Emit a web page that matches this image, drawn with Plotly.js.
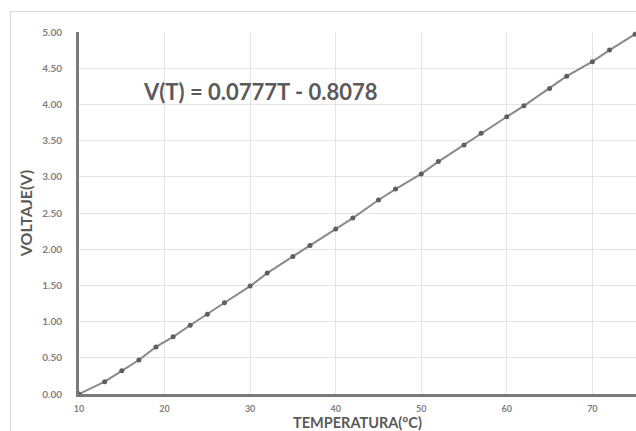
<!DOCTYPE html>
<html>
<head>
<meta charset="utf-8">
<script src="https://cdn.plot.ly/plotly-3.0.1.min.js"></script>
<style>
html,body{margin:0;padding:0;background:#fff;}
#wrap{position:relative;width:636px;height:431px;overflow:hidden;}
#chart{width:636px;height:431px;}
#frame{position:absolute;left:10px;top:11px;width:700px;height:500px;border:1px solid #d9d9d9;pointer-events:none;}
</style>
</head>
<body>
<div id="wrap"><div id="chart"></div><div id="frame"></div></div>
<script>
const temperatura = [10, 13, 15, 17, 19, 21, 23, 25, 27, 30, 32, 35, 37, 40, 42, 45, 47, 50, 52, 55, 57, 60, 62, 65, 67, 70, 72, 75];
const voltaje = [0.00, 0.17, 0.32, 0.47, 0.65, 0.79, 0.95, 1.10, 1.26, 1.49, 1.67, 1.90, 2.05, 2.28, 2.43, 2.68, 2.83, 3.04, 3.21, 3.44, 3.60, 3.83, 3.98, 4.22, 4.39, 4.59, 4.75, 4.97];
const xTicks = [10, 20, 30, 40, 50, 60, 70];
const yTicks = [0, 0.5, 1, 1.5, 2, 2.5, 3, 3.5, 4, 4.5, 5];
const ecuacion = "V(T) = 0.0777T - 0.8078";

const trace = {
  x: temperatura, y: voltaje, type: 'scatter', mode: 'lines+markers',
  line: {color: '#8a8a8a', width: 2},
  marker: {color: '#5f5f5f', size: 5},
  cliponaxis: false, hoverinfo: 'skip'
};
const tickFont = {family: 'Lato, "Open Sans", sans-serif', size: 10, color: '#808080', weight: 'bold'};
const layout = {
  width: 636, height: 431,
  margin: {l: 79, r: 0, t: 32, b: 37, pad: 0},
  paper_bgcolor: '#ffffff', plot_bgcolor: '#ffffff',
  showlegend: false,
  xaxis: {
    range: [10, 75.1], tickvals: xTicks, ticktext: xTicks.map(String),
    showgrid: true, gridcolor: '#e4e4e4', gridwidth: 1,
    showline: true, linecolor: '#7a7a7a', linewidth: 3,
    zeroline: false, ticks: '', ticklen: 0,
    tickfont: {family: 'Lato, "Open Sans", sans-serif', size: 9, color: '#808080', weight: 'bold'},
    ticklabelstandoff: 4,
    title: {text: 'TEMPERATURA(°C)', standoff: 3, font: {family: 'Lato, sans-serif', size: 14.5, color: '#5a5a5a', weight: 'bold'}}
  },
  yaxis: {
    range: [0, 5], tickvals: yTicks, tickformat: '.2f',
    showgrid: true, gridcolor: '#e4e4e4', gridwidth: 1,
    showline: true, linecolor: '#7a7a7a', linewidth: 3,
    zeroline: false, ticks: '', ticklen: 0, tickfont: tickFont, ticklabelstandoff: 12,
    title: {text: 'VOLTAJE(V)', standoff: 6, font: {family: 'Lato, sans-serif', size: 16, color: '#5a5a5a', weight: 'bold'}}
  },
  annotations: [{
    text: ecuacion, xref: 'x', yref: 'y', x: 31.2, y: 4.18, xanchor: 'center', yanchor: 'middle',
    showarrow: false, font: {family: 'Lato, sans-serif', size: 22, color: '#5a5a5a', weight: 'bold'}
  }]
};
Plotly.newPlot('chart', [trace], layout, {staticPlot: true, displayModeBar: false});
</script>
</body>
</html>
